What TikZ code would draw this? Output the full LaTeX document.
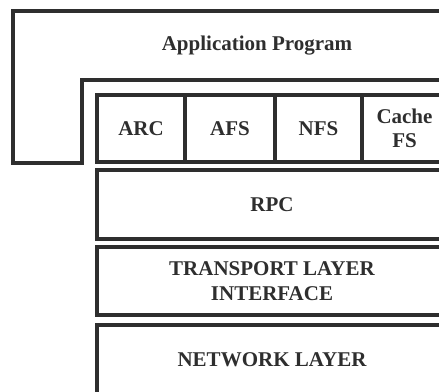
\documentclass[tikz,border=0pt]{standalone}
\usepackage{fontspec}
\setmainfont{Liberation Serif}
\definecolor{ink}{HTML}{2E2E2E}
\begin{document}
\begin{tikzpicture}[x=1pt,y=-1pt,
  wall/.style={draw=ink,line width=3.8pt},
  txt/.style={font=\fontsize{21}{24.5}\selectfont\bfseries,text=ink,align=center},
  layer/.style={wall,rectangle,inner sep=0pt,txt},
  tag/.style={txt,inner sep=0pt}]
\useasboundingbox (0,0) rectangle (439,391);
\clip (0,0) rectangle (439,391);
% application program frame wrapping the file system row
\draw[wall,line join=miter] (470,11) -- (13,11) -- (13,163) -- (82,163) -- (82,80) -- (470,80);
\node[tag] (app) at (257,46) {Application Program};
% file system modules
\node[layer,minimum width=88pt,minimum height=67pt] (arc) at (141,128.5) {ARC};
\node[layer,minimum width=90pt,minimum height=67pt] (afs) at (230,128.5) {AFS};
\node[layer,minimum width=87pt,minimum height=67pt] (nfs) at (318.5,128.5) {NFS};
\node[layer,minimum width=85pt,minimum height=67pt] (cfs) at (404.5,128.5) {Cache\\FS};
% protocol layers
\node[layer,minimum width=350pt,minimum height=69pt] (rpc) at (272,204.5) {RPC};
\node[layer,minimum width=350pt,minimum height=68pt] (tli) at (272,281) {TRANSPORT LAYER\\INTERFACE};
\node[layer,minimum width=350pt,minimum height=70pt] (net) at (272,360) {NETWORK LAYER};
\end{tikzpicture}
\end{document}
